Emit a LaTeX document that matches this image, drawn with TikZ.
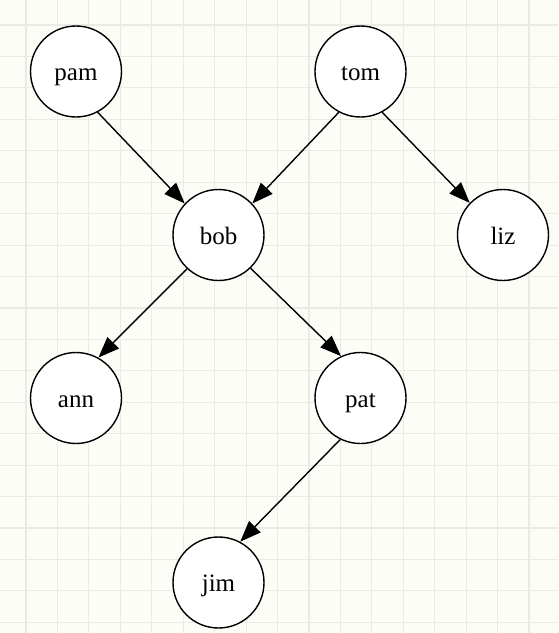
\documentclass[tikz,border=0pt]{standalone}
\usepackage{fontspec}
\setmainfont{Liberation Serif}
\usetikzlibrary{arrows.meta}
\definecolor{bgcol}{HTML}{FDFDF8}
\definecolor{gridcol}{HTML}{EBEBE5}
\tikzset{
  person/.style={circle, draw=black, fill=white, line width=1.4pt, minimum size=91pt, inner sep=0pt, text height=18pt, text depth=0pt, font=\fontsize{25}{28}\selectfont},
  link/.style={line width=1.4pt, -{Triangle[length=21pt,width=16pt]}}
}
\begin{document}
\begin{tikzpicture}[x=1pt,y=-1pt]
\fill[bgcol] (0,0) rectangle (558,633);
\useasboundingbox (0,0) rectangle (558,633);
\foreach \i in {0,...,16} {
  \draw[gridcol, line width=1.1pt] ({26+31.44*\i},0) -- ({26+31.44*\i},633);
}
\foreach \i in {0,...,19} {
  \draw[gridcol, line width=1.1pt] (0,{25+31.44*\i}) -- (558,{25+31.44*\i});
}
\node[person] (pam) at (76,71.5) {pam};
\node[person] (tom) at (360.5,71.5) {tom};
\node[person] (bob) at (218.5,235) {bob};
\node[person] (liz) at (503,235) {liz};
\node[person] (ann) at (76,398) {ann};
\node[person] (pat) at (360.5,398) {pat};
\node[person] (jim) at (218.5,582.5) {jim};
\draw[link] (pam.-62) -- (bob.137);
\draw[link] (tom.-118) -- (bob.43);
\draw[link] (tom.-62) -- (liz.136);
\draw[link] (bob.-133) -- (ann.61);
\draw[link] (bob.-46) -- (pat.115);
\draw[link] (pat.-116) -- (jim.62);
\end{tikzpicture}
\end{document}
